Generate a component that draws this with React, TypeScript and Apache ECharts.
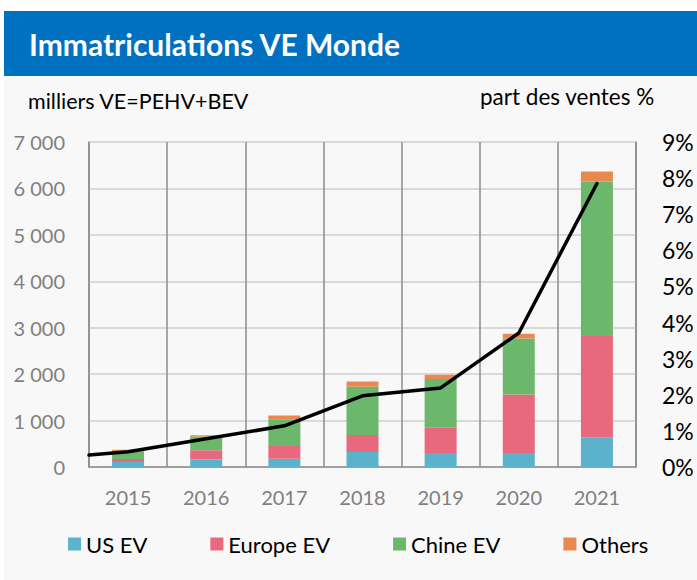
import React, { useEffect, useRef } from "react";
import * as echarts from "echarts";

const years = ["2015", "2016", "2017", "2018", "2019", "2020", "2021"];
const usEV = [110, 160, 180, 325, 300, 300, 640];
const europeEV = [60, 200, 275, 365, 545, 1260, 2180];
const chineEV = [170, 295, 575, 1040, 1050, 1210, 3330];
const othersEV = [30, 30, 80, 110, 90, 100, 215];
// part des ventes (%) : first point sits at the left edge of the plot
const shareStart = 0.33;
const shareValues = [0.42, 0.78, 1.14, 1.97, 2.19, 3.71, 7.85];

const FONT = "Lato, 'Noto Sans', sans-serif";

export default function App() {
  const ref = useRef<HTMLDivElement>(null);
  useEffect(() => {
    if (!ref.current) return;
    const chart = echarts.init(ref.current, undefined, { renderer: "svg" });
    const lineData: number[][] = [[-0.5, shareStart]];
    shareValues.forEach((v, i) => lineData.push([i, v]));
    const fmt = (v: number) => String(v).replace(/\B(?=(\d{3})+(?!\d))/g, " ");
    chart.setOption({
      animation: false,
      backgroundColor: "#ffffff",
      textStyle: { fontFamily: FONT },
      graphic: [
        { type: "rect", z: -10, shape: { x: 4, y: 11, width: 693, height: 569 }, style: { fill: "#f8f8f8" } },
        { type: "rect", z: -9, shape: { x: 4, y: 11, width: 693, height: 65 }, style: { fill: "#0070c0" } },
        {
          type: "text", x: 29, y: 44,
          style: { text: "Immatriculations VE Monde", fill: "#ffffff", font: `bold 30px ${FONT}`, verticalAlign: "middle" },
        },
        {
          type: "text", x: 28, y: 101,
          style: { text: "milliers VE=PEHV+BEV", fill: "#000000", font: `21.5px ${FONT}`, verticalAlign: "middle" },
        },
        {
          type: "text", x: 480, y: 96,
          style: { text: "part des ventes %", fill: "#000000", font: `22.5px ${FONT}`, verticalAlign: "middle" },
        },
      ],
      grid: {
        left: 89, right: 61, top: 142, bottom: 113,
        show: true, borderColor: "#8c8c8c", borderWidth: 1.5, backgroundColor: "transparent",
      },
      legend: {
        data: ["US EV", "Europe EV", "Chine EV", "Others"],
        left: 63, top: 528,
        icon: "rect", itemWidth: 13, itemHeight: 13, itemGap: 63,
        textStyle: { fontFamily: FONT, fontSize: 22, color: "#000000" },
      },
      xAxis: [
        {
          type: "category", data: years, boundaryGap: true,
          axisLine: { lineStyle: { color: "#8c8c8c", width: 1.5 } },
          axisTick: { show: false },
          axisLabel: { color: "#7f7f7f", fontSize: 20, fontFamily: FONT, margin: 20 },
          splitLine: { show: true, lineStyle: { color: "#8c8c8c", width: 1.5 } },
        },
        { type: "value", min: -0.5, max: 6.5, show: false },
      ],
      yAxis: [
        {
          type: "value", min: 0, max: 7000, interval: 1000,
          axisLine: { show: false }, axisTick: { show: false },
          axisLabel: { color: "#7f7f7f", fontSize: 20, fontFamily: FONT, margin: 24, formatter: fmt },
          splitLine: { lineStyle: { color: "#d9d9d9", width: 2 } },
        },
        {
          type: "value", min: 0, max: 9, interval: 1, position: "right",
          axisLine: { show: false }, axisTick: { show: false },
          axisLabel: { color: "#000000", fontSize: 23, fontFamily: FONT, margin: 26, formatter: "{value}%" },
          splitLine: { show: false },
        },
      ],
      series: [
        { name: "US EV", type: "bar", stack: "t", barWidth: 32, data: usEV, itemStyle: { color: "#5bb3cb" } },
        { name: "Europe EV", type: "bar", stack: "t", barWidth: 32, data: europeEV, itemStyle: { color: "#e8697d" } },
        { name: "Chine EV", type: "bar", stack: "t", barWidth: 32, data: chineEV, itemStyle: { color: "#6bb76b" } },
        { name: "Others", type: "bar", stack: "t", barWidth: 32, data: othersEV, itemStyle: { color: "#e8894f" } },
        {
          name: "part", type: "line", xAxisIndex: 1, yAxisIndex: 1, data: lineData,
          symbol: "none", z: 5,
          lineStyle: { color: "#000000", width: 3.5, cap: "round", join: "round" },
        },
      ],
    });
    return () => chart.dispose();
  }, []);
  return <div ref={ref} style={{ position: "absolute", left: 0, top: 0, width: 697, height: 580 }} />;
}
